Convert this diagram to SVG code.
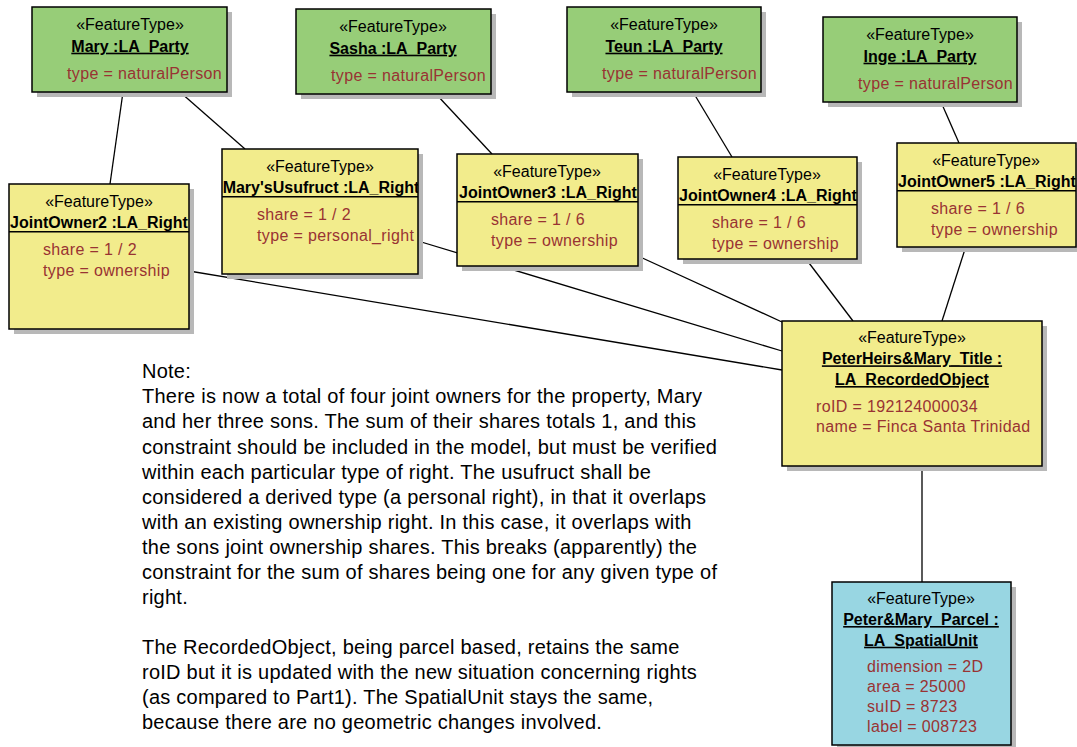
<svg xmlns="http://www.w3.org/2000/svg" width="1077" height="747" viewBox="0 0 1077 747">
  <style>
    .box { stroke: #000; stroke-width: 1.5; }
    .party { fill: #97CD78; }
    .right { fill: #F2EC8C; }
    .title { fill: #F2EC8C; }
    .unit { fill: #98D6E2; }
    .shadow { fill: #B8B8B8; stroke: none; }
    text { font-family: "Liberation Sans", Arial, sans-serif; font-size: 16px; fill: #000; }
    .st { text-anchor: middle; }
    .nm { text-anchor: middle; font-weight: bold; }
    .ul { text-decoration: underline; }
    .at { fill: #993333; letter-spacing: 0.35px; }
    .sep { stroke: #000; stroke-width: 1.5; }
    .conn line { stroke: #000; stroke-width: 1.3; }
    .note text { font-size: 20px; letter-spacing: 0.25px; }
  </style>
  <defs>
    <clipPath id="cUsu"><rect x="222" y="149" width="196" height="125"/></clipPath>
    <clipPath id="cJO2"><rect x="9" y="184" width="180" height="145"/></clipPath>
    <clipPath id="cJO3"><rect x="457" y="154" width="181" height="112"/></clipPath>
    <clipPath id="cJO4"><rect x="678" y="157" width="179" height="102"/></clipPath>
    <clipPath id="cJO5"><rect x="897" y="143" width="179" height="104"/></clipPath>
  </defs>

  <rect width="1077" height="747" fill="#fff"/>

  <!-- associations -->
  <g id="connectors" class="conn">
    <line x1="123" y1="92" x2="110" y2="184"/>
    <line x1="180" y1="92" x2="245" y2="149"/>
    <line x1="436" y1="94" x2="492" y2="154"/>
    <line x1="693" y1="92" x2="732" y2="157"/>
    <line x1="941" y1="102" x2="959" y2="143"/>
    <line x1="189" y1="271" x2="782" y2="370"/>
    <line x1="418" y1="241" x2="782" y2="351"/>
    <line x1="638" y1="256" x2="782" y2="322"/>
    <line x1="806" y1="259" x2="853" y2="321"/>
    <line x1="966" y1="246" x2="942" y2="321"/>
    <line x1="922" y1="466" x2="922" y2="582"/>
  </g>

  <!-- parties -->
  <g id="mary">
    <rect class="shadow" x="37" y="12" width="195" height="85"/>
    <rect class="box party" x="32" y="7" width="195" height="85"/>
    <text class="st" x="130" y="29.5">«FeatureType»</text>
    <text class="nm ul" x="130" y="51.7">Mary :LA_Party</text>
    <text class="at" x="67" y="79">type = naturalPerson</text>
  </g>
  <g id="sasha">
    <rect class="shadow" x="301" y="14" width="195" height="85"/>
    <rect class="box party" x="296" y="9" width="195" height="85"/>
    <text class="st" x="393" y="31.5">«FeatureType»</text>
    <text class="nm ul" x="393" y="53.7">Sasha :LA_Party</text>
    <text class="at" x="331" y="81">type = naturalPerson</text>
  </g>
  <g id="teun">
    <rect class="shadow" x="572" y="12" width="194" height="85"/>
    <rect class="box party" x="567" y="7" width="194" height="85"/>
    <text class="st" x="664" y="29.5">«FeatureType»</text>
    <text class="nm ul" x="664" y="51.7">Teun :LA_Party</text>
    <text class="at" x="602" y="79">type = naturalPerson</text>
  </g>
  <g id="inge">
    <rect class="shadow" x="828" y="22" width="194" height="85"/>
    <rect class="box party" x="823" y="17" width="194" height="85"/>
    <text class="st" x="920" y="39.5">«FeatureType»</text>
    <text class="nm ul" x="920" y="61.7">Inge :LA_Party</text>
    <text class="at" x="858" y="89">type = naturalPerson</text>
  </g>

  <!-- rights -->
  <g id="jointOwner2">
    <rect class="shadow" x="14" y="189" width="180" height="145"/>
    <rect class="box right" x="9" y="184" width="180" height="145"/>
    <g clip-path="url(#cJO2)">
      <text class="st" x="99" y="206.5">«FeatureType»</text>
      <text class="nm" x="99" y="227.5">JointOwner2 :LA_Right</text>
    </g>
    <line class="sep" x1="9" y1="231.7" x2="189" y2="231.7"/>
    <text class="at" x="43" y="255">share = 1 / 2</text>
    <text class="at" x="43" y="276">type = ownership</text>
  </g>
  <g id="marysUsufruct">
    <rect class="shadow" x="227" y="154" width="196" height="125"/>
    <rect class="box right" x="222" y="149" width="196" height="125"/>
    <g clip-path="url(#cUsu)">
      <text class="st" x="320" y="171.5">«FeatureType»</text>
      <text class="nm" x="321" y="192.5">Mary'sUsufruct :LA_Right</text>
    </g>
    <line class="sep" x1="222" y1="196.7" x2="418" y2="196.7"/>
    <text class="at" x="257" y="220">share = 1 / 2</text>
    <text class="at" x="257" y="241">type = personal_right</text>
  </g>
  <g id="jointOwner3">
    <rect class="shadow" x="462" y="159" width="181" height="112"/>
    <rect class="box right" x="457" y="154" width="181" height="112"/>
    <g clip-path="url(#cJO3)">
      <text class="st" x="547" y="176.5">«FeatureType»</text>
      <text class="nm" x="548" y="197.5">JointOwner3 :LA_Right</text>
    </g>
    <line class="sep" x1="457" y1="201.7" x2="638" y2="201.7"/>
    <text class="at" x="491" y="225">share = 1 / 6</text>
    <text class="at" x="491" y="246">type = ownership</text>
  </g>
  <g id="jointOwner4">
    <rect class="shadow" x="683" y="162" width="179" height="102"/>
    <rect class="box right" x="678" y="157" width="179" height="102"/>
    <g clip-path="url(#cJO4)">
      <text class="st" x="767" y="179.5">«FeatureType»</text>
      <text class="nm" x="768" y="200.5">JointOwner4 :LA_Right</text>
    </g>
    <line class="sep" x1="678" y1="204.7" x2="857" y2="204.7"/>
    <text class="at" x="712" y="228">share = 1 / 6</text>
    <text class="at" x="712" y="249">type = ownership</text>
  </g>
  <g id="jointOwner5">
    <rect class="shadow" x="902" y="148" width="179" height="104"/>
    <rect class="box right" x="897" y="143" width="179" height="104"/>
    <g clip-path="url(#cJO5)">
      <text class="st" x="986" y="165.5">«FeatureType»</text>
      <text class="nm" x="987" y="186.5">JointOwner5 :LA_Right</text>
    </g>
    <line class="sep" x1="897" y1="190.7" x2="1076" y2="190.7"/>
    <text class="at" x="931" y="214">share = 1 / 6</text>
    <text class="at" x="931" y="235">type = ownership</text>
  </g>

  <!-- recorded object -->
  <g id="title">
    <rect class="shadow" x="787" y="326" width="260" height="145"/>
    <rect class="box title" x="782" y="321" width="260" height="145"/>
    <text class="st" x="912" y="343.3">«FeatureType»</text>
    <text class="nm ul" x="912" y="364.3">PeterHeirs&amp;Mary_Title :</text>
    <text class="nm ul" x="912" y="385">LA_RecordedObject</text>
    <text class="at" x="816" y="412.3">roID = 192124000034</text>
    <text class="at" x="816" y="432.3">name = Finca Santa Trinidad</text>
  </g>

  <!-- spatial unit -->
  <g id="parcel">
    <rect class="shadow" x="837" y="587" width="179" height="163"/>
    <rect class="box unit" x="832" y="582" width="179" height="163"/>
    <text class="st" x="921" y="604.3">«FeatureType»</text>
    <text class="nm ul" x="921" y="625">Peter&amp;Mary_Parcel :</text>
    <text class="nm ul" x="921" y="645.7">LA_SpatialUnit</text>
    <text class="at" x="867" y="672.3">dimension = 2D</text>
    <text class="at" x="867" y="692.3">area = 25000</text>
    <text class="at" x="867" y="712.3">suID = 8723</text>
    <text class="at" x="867" y="732.3">label = 008723</text>
  </g>

  <!-- explanatory note -->
  <g id="note" class="note">
    <text x="142" y="378.3">Note:</text>
    <text x="142" y="403.4">There is now a total of four joint owners for the property, Mary</text>
    <text x="142" y="428.4">and her three sons. The sum of their shares totals 1, and this</text>
    <text x="142" y="453.5">constraint should be included in the model, but must be verified</text>
    <text x="142" y="478.5">within each particular type of right. The usufruct shall be</text>
    <text x="142" y="503.6">considered a derived type (a personal right), in that it overlaps</text>
    <text x="142" y="528.6">with an existing ownership right. In this case, it overlaps with</text>
    <text x="142" y="553.7">the sons joint ownership shares. This breaks (apparently) the</text>
    <text x="142" y="578.7">constraint for the sum of shares being one for any given type of</text>
    <text x="142" y="603.8">right.</text>
    <text x="142" y="654.4">The RecordedObject, being parcel based, retains the same</text>
    <text x="142" y="679.4">roID but it is updated with the new situation concerning rights</text>
    <text x="142" y="704.2">(as compared to Part1). The SpatialUnit stays the same,</text>
    <text x="142" y="729">because there are no geometric changes involved.</text>
  </g>
</svg>
